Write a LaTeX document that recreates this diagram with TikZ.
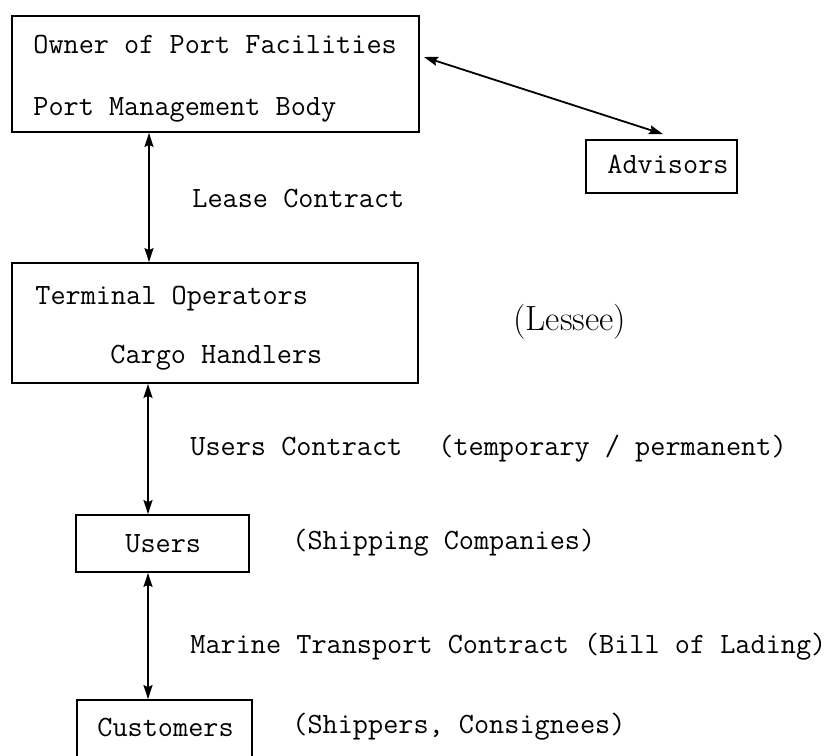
\documentclass[tikz,border=0pt]{standalone}
\usetikzlibrary{arrows.meta}
\begin{document}
\begin{tikzpicture}[x=0.5pt,y=-0.5pt,
  box/.style={draw=black,line width=0.9pt,inner sep=0pt,rectangle},
  tw/.style={anchor=base west,inner sep=0pt,font=\fontsize{14.7pt}{17pt}\selectfont\ttfamily},
  rm/.style={anchor=base west,inner sep=0pt,font=\fontsize{17.5pt}{20pt}\selectfont\rmfamily},
  dbl/.style={line width=0.9pt,{Stealth[length=7pt,width=4.5pt,inset=1pt]}-{Stealth[length=7pt,width=4.5pt,inset=1pt]}}]
\useasboundingbox (0,0) rectangle (838,755);
\clip (0,0) rectangle (838,755);
\fill[white] (0,0) rectangle (838,755);
% boxes
\node[box,minimum width=203.5pt,minimum height=58pt] (owner) at (215.5,74) {};
\node[box,minimum width=75.5pt,minimum height=26.5pt] (adv) at (661.5,166.5) {};
\node[box,minimum width=203pt,minimum height=60pt] (term) at (215,323) {};
\node[box,minimum width=86.5pt,minimum height=28.5pt] (users) at (162.5,543.5) {};
\node[box,minimum width=87.5pt,minimum height=32.5pt] (cust) at (164.5,732.5) {};
% texts in boxes
\node[tw] (t1) at (33,53) {Owner of Port Facilities};
\node[tw] (t2) at (33,115) {Port Management Body};
\node[tw] (t3) at (607,173) {Advisors};
\node[tw] (t4) at (35,304) {Terminal Operators};
\node[tw] (t5) at (110,363) {Cargo Handlers};
\node[tw] (t6) at (125,552) {Users};
\node[tw] (t7) at (97,736) {Customers};
% labels
\node[tw] (l1) at (192,207) {Lease Contract};
\node[rm] (l2) at (513,330) {(Lessee)};
\node[tw] (l3) at (190,455) {Users Contract};
\node[tw] (l4) at (438,455) {(temporary / permanent)};
\node[tw] (l5) at (292,549) {(Shipping Companies)};
\node[tw] (l6) at (190,653) {Marine Transport Contract (Bill of Lading)};
\node[tw] (l7) at (292,733) {(Shippers, Consignees)};
% connectors
\draw[dbl] ([xshift=-33.25pt]owner.south) -- ([xshift=-33pt]term.north);
\draw[dbl] ([xshift=-33.5pt]term.south) -- ([xshift=-7.25pt]users.north);
\draw[dbl] ([xshift=-7.25pt]users.south) -- ([xshift=-8.25pt]cust.north);
\draw[dbl] ([xshift=2pt,yshift=8.5pt]owner.east) -- ([xshift=0.75pt,yshift=2.5pt]adv.north);
\end{tikzpicture}
\end{document}
